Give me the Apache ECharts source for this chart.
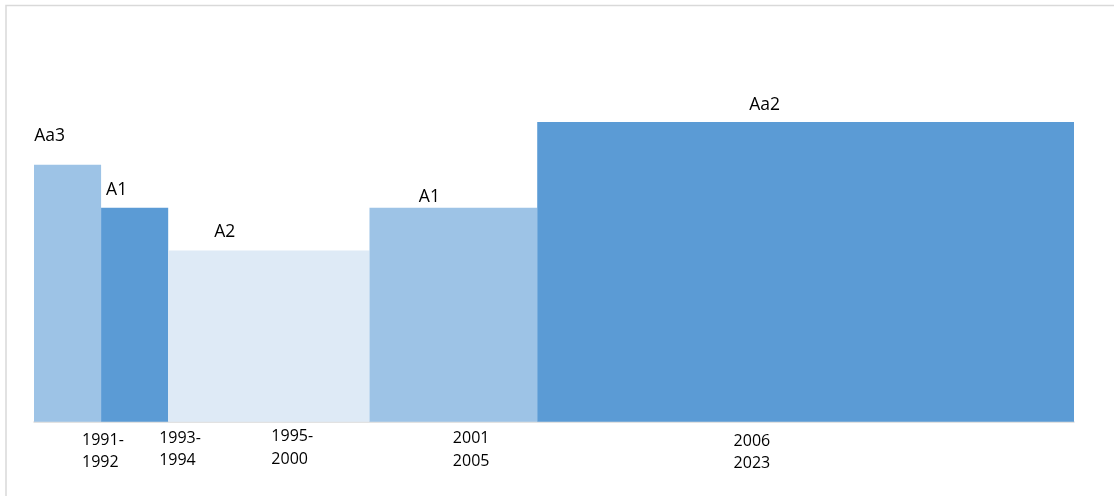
<!DOCTYPE html>
<html>
<head>
<meta charset="utf-8">
<title>Rating history</title>
<script src="https://cdn.jsdelivr.net/npm/echarts@6/dist/echarts.min.js"></script>
<style>
  html, body { margin: 0; padding: 0; background: #fff; }
  #main { width: 1114px; height: 496px; }
</style>
</head>
<body>
<div id="main"></div>
<script>
// 数据
const periods = ['1991-\n1992', '1993-\n1994', '1995-\n2000', '2001\n2005', '2006\n2023'];
const ratings = ['Aa3', 'A1', 'A2', 'A1', 'Aa2'];
const ratingScore = [6, 5, 4, 5, 7]; // A2=4 A1=5 Aa3=6 Aa2=7
const barWidths = [2, 2, 6, 5, 16]; // 相对宽度
const barColors = ['#9DC3E6', '#5B9BD5', '#DEEAF6', '#9DC3E6', '#5B9BD5'];

// 标签偏移（像素，相对柱中心 / 柱顶 / 底线）
const ratingLabelOffset = [[-18, -29], [-18, -18], [-44, -18], [-24, -11], [-41, -16.5]];
const periodLabelOffset = [[14.5, 7], [24.5, 5], [2.5, 3.5], [-0.5, 5.5], [-72, 8]];

let acc = 0;
const bars = barWidths.map((w, i) => {
  const item = [acc, acc + w, ratingScore[i], i];
  acc += w;
  return item;
});
const totalWidth = acc;

const chart = echarts.init(document.getElementById('main'));

function renderItem(params, api) {
  const i = api.value(3);
  const topLeft = api.coord([api.value(0), api.value(2)]);
  const bottomRight = api.coord([api.value(1), 0]);
  const cx = (topLeft[0] + bottomRight[0]) / 2;
  const ro = ratingLabelOffset[i];
  const po = periodLabelOffset[i];
  return {
    type: 'group',
    children: [
      {
        type: 'rect',
        shape: {
          x: topLeft[0],
          y: topLeft[1],
          width: bottomRight[0] - topLeft[0],
          height: bottomRight[1] - topLeft[1]
        },
        style: { fill: barColors[i] }
      },
      {
        type: 'text',
        style: {
          text: ratings[i],
          x: cx + ro[0],
          y: topLeft[1] + ro[1],
          align: 'center',
          verticalAlign: 'middle',
          fill: '#000',
          fontSize: 17.5,
          fontFamily: 'Open Sans'
        }
      },
      {
        type: 'text',
        style: {
          text: periods[i],
          x: cx + po[0],
          y: bottomRight[1] + po[1],
          align: 'left',
          verticalAlign: 'top',
          lineHeight: 22.5,
          fill: '#000',
          fontSize: 16,
          fontFamily: 'Open Sans'
        }
      }
    ]
  };
}

chart.setOption({
  animation: false,
  grid: { left: 34, right: 40, top: 122, bottom: 74.3 },
  xAxis: {
    type: 'value',
    min: 0,
    max: totalWidth,
    axisLine: { show: true, onZero: false, lineStyle: { color: '#D9D9D9', width: 1.5 } },
    axisTick: { show: false },
    axisLabel: { show: false },
    splitLine: { show: false }
  },
  yAxis: {
    type: 'value',
    min: 0,
    max: 7,
    show: false
  },
  graphic: [
    {
      // 图表区边框
      type: 'rect',
      silent: true,
      shape: { x: 6, y: 5.5, width: 1200, height: 600 },
      style: { fill: 'none', stroke: '#D9D9D9', lineWidth: 1.5 }
    }
  ],
  series: [
    {
      type: 'custom',
      renderItem: renderItem,
      clip: false,
      encode: { x: [0, 1], y: 2 },
      data: bars
    }
  ]
});
</script>
</body>
</html>
